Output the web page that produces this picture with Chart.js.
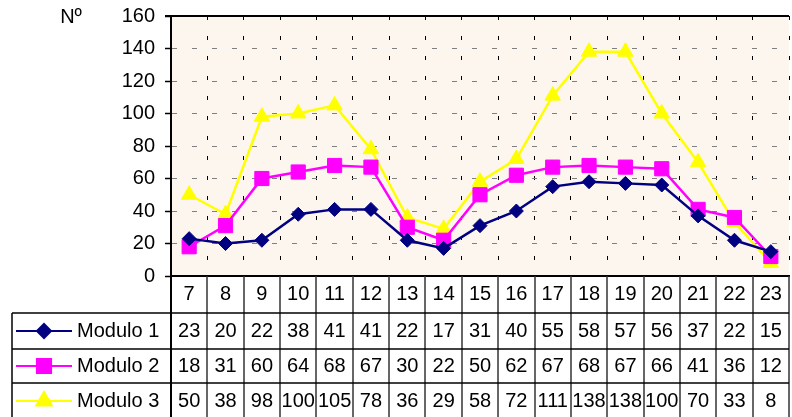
<!DOCTYPE html>
<html>
<head>
<meta charset="utf-8">
<script src="https://cdn.jsdelivr.net/npm/chart.js@4"></script>
<style>
  html, body { margin: 0; padding: 0; background: #fff; overflow: hidden; }
  #wrap { width: 800px; height: 417px; }
</style>
</head>
<body>
<div id="wrap"><canvas id="chart" width="800" height="417"></canvas></div>
<script>
  // hours of the day (columns of the data table)
  const hours = ["7", "8", "9", "10", "11", "12", "13", "14", "15", "16", "17", "18", "19", "20", "21", "22", "23"];
  const modulo1 = [23, 20, 22, 38, 41, 41, 22, 17, 31, 40, 55, 58, 57, 56, 37, 22, 15];
  const modulo2 = [18, 31, 60, 64, 68, 67, 30, 22, 50, 62, 67, 68, 67, 66, 41, 36, 12];
  const modulo3 = [50, 38, 98, 100, 105, 78, 36, 29, 58, 72, 111, 138, 138, 100, 70, 33, 8];
  const seriesNames = ["Modulo 1", "Modulo 2", "Modulo 3"];
  const yMin = 0;
  const yMax = 160;
  const yStep = 20;
  const yLabel = "Nº";

  const FONT = "'Liberation Sans', Arial, sans-serif";

  const plotBackground = {
    id: "plotBackground",
    beforeDraw(chart) {
      const { ctx, chartArea: a } = chart;
      ctx.save();
      ctx.fillStyle = "#fdf6ef";
      ctx.fillRect(a.left, a.top, a.right - a.left, a.bottom - a.top);
      ctx.restore();
    },
  };

  function line(ctx, x1, y1, x2, y2) {
    ctx.beginPath();
    ctx.moveTo(x1, y1);
    ctx.lineTo(x2, y2);
    ctx.stroke();
  }

  // data table under the plot, columns follow the x scale
  const dataTable = {
    id: "dataTable",
    afterDraw(chart) {
      const { ctx, chartArea: a } = chart;
      const xs = chart.scales.x;
      const colW = (xs.right - xs.left) / hours.length;
      const rowH = [37, 36, 34, 36];
      const rowY = [];
      let y = a.bottom;
      rowH.forEach((h) => { rowY.push(y); y += h; });
      const bottom = chart.height;
      const boxLeft = 12;

      ctx.save();
      // top edge of plot
      ctx.strokeStyle = "#000";
      ctx.lineWidth = 2;
      line(ctx, a.left - 6, a.top, a.right, a.top);

      // column lines
      ctx.strokeStyle = "#333";
      ctx.lineWidth = 1.5;
      for (let i = 0; i <= hours.length; i++) {
        const x = Math.round(xs.left + i * colW);
        line(ctx, x, a.bottom, x, bottom);
      }
      // row lines
      ctx.strokeStyle = "#000";
      for (let r = 1; r < rowH.length; r++) {
        line(ctx, boxLeft, rowY[r], a.right, rowY[r]);
      }
      line(ctx, boxLeft, rowY[1], boxLeft, bottom);
      ctx.lineWidth = 2;
      line(ctx, a.left, a.bottom, a.left, bottom);

      // values
      ctx.fillStyle = "#000";
      ctx.font = "20px " + FONT;
      ctx.textAlign = "center";
      ctx.textBaseline = "middle";
      chart.data.datasets.forEach((ds, r) => {
        const cy = rowY[r + 1] + rowH[r + 1] / 2;
        ds.data.forEach((v, i) => {
          ctx.fillText(String(v), xs.getPixelForValue(i), cy);
        });

        // legend key
        ctx.strokeStyle = ds.borderColor;
        ctx.fillStyle = ds.backgroundColor;
        ctx.lineWidth = 2;
        line(ctx, 16, cy, 72, cy);
        Chart.helpers.drawPoint(ctx, {
          pointStyle: ds.pointStyle,
          radius: ds.pointRadius,
          rotation: 0,
          borderWidth: 1,
        }, 44, cy);
        ctx.fillStyle = "#000";
        ctx.textAlign = "left";
        ctx.fillText(ds.label, 77, cy);
        ctx.textAlign = "center";
      });

      // axis caption
      ctx.font = "20px " + FONT;
      ctx.fillText(yLabel, 71, 17);
      ctx.restore();
    },
  };

  function series(label, data, color, style, radius) {
    return {
      label,
      data,
      borderColor: color,
      backgroundColor: color,
      borderWidth: 2.5,
      pointStyle: style,
      pointRadius: radius,
      pointHoverRadius: radius,
      pointBorderWidth: 1,
      tension: 0,
    };
  }

  new Chart(document.getElementById("chart"), {
    type: "line",
    data: {
      labels: hours,
      datasets: [
        series(seriesNames[0], modulo1, "#000080", "rectRot", 7),
        series(seriesNames[1], modulo2, "#ff00ff", "rect", 10),
        series(seriesNames[2], modulo3, "#ffff00", "triangle", 9),
      ],
    },
    options: {
      responsive: false,
      animation: false,
      events: [],
      layout: { padding: { top: 16, left: 0, right: 0, bottom: 0 } },
      plugins: {
        legend: { display: false },
        tooltip: { enabled: false },
      },
      scales: {
        x: {
          offset: true,
          grid: {
            offset: true,
            color: "#000",
            lineWidth: 1,
            drawTicks: false,
          },
          border: { display: true, color: "#000", width: 2, dash: [4, 16] },
          ticks: {
            color: "#000",
            font: { family: FONT, size: 20 },
            padding: 6,
            maxRotation: 0,
            autoSkip: false,
          },
          afterFit(scale) {
            scale.height = 141;
            scale.paddingLeft = 0;
            scale.paddingRight = 0;
          },
        },
        y: {
          min: yMin,
          max: yMax,
          grid: {
            color: "#808080",
            lineWidth: 1,
            drawTicks: true,
            tickLength: 6,
            tickColor: "#000",
            tickWidth: 1.5,
            tickBorderDash: [],
          },
          border: { display: true, color: "#000", width: 2, dash: [5, 15] },
          ticks: {
            stepSize: yStep,
            color: "#000",
            font: { family: FONT, size: 20 },
            padding: 10,
          },
          afterFit(scale) {
            scale.width = 171;
            scale.paddingTop = 0;
            scale.paddingBottom = 0;
          },
        },
      },
    },
    plugins: [plotBackground, dataTable],
  });
</script>
</body>
</html>
